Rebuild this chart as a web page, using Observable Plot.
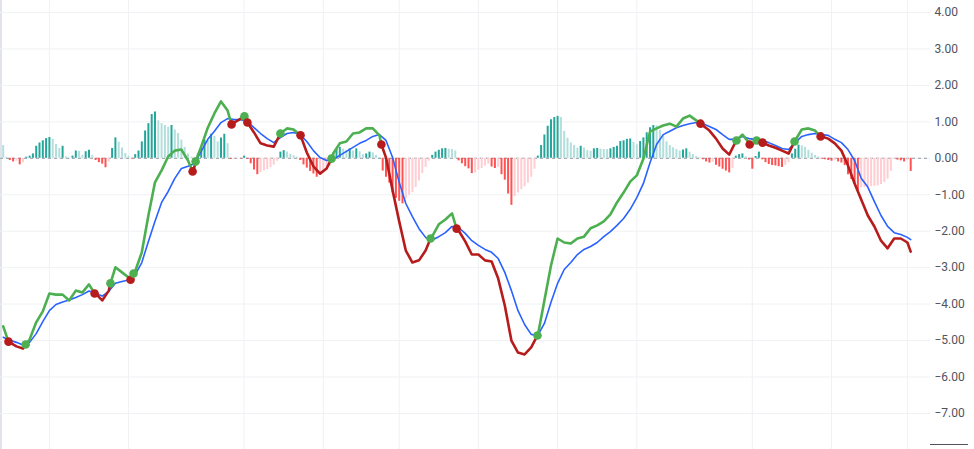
<!DOCTYPE html>
<html><head><meta charset="utf-8">
<script src="https://cdn.jsdelivr.net/npm/d3@7"></script>
<script src="https://cdn.jsdelivr.net/npm/@observablehq/plot@0.6"></script>
<style>
html,body{margin:0;padding:0;background:#fff;}
#wrap{position:relative;width:974px;height:449px;overflow:hidden;}
#wrap .edge{position:absolute;left:0;top:0;width:2px;height:449px;background:#e0e3eb;}
#wrap .corner{position:absolute;left:930px;top:444px;width:38px;height:1px;background:#50535e;}
</style></head>
<body><div id="wrap"><div class="edge"></div><div class="corner"></div></div>
<script>
// Histogram value per bar (276 bars)
const hist = [
0.35,0.03,-0.06,-0.1,-0.08,-0.18,-0.12,0.03,0.06,0.12,
0.33,0.42,0.48,0.54,0.57,0.52,0.38,0.27,0.33,0.04,
0.01,0.06,0.2,0.19,0.08,0.18,0.22,0.08,-0.06,-0.12,
-0.16,-0.26,-0.1,0.27,0.56,0.44,0.28,0.13,0.06,-0.02,
0.1,0.2,0.45,0.75,0.95,1.2,1.27,1.03,0.95,0.9,
0.85,0.9,0.78,0.68,0.5,0.3,0.12,0.03,-0.05,0.12,
0.3,0.5,0.48,0.66,0.6,0.45,0.56,0.66,0.4,-0.03,
-0.02,-0.01,-0.01,0.06,-0.03,-0.15,-0.32,-0.45,-0.39,-0.35,
-0.31,-0.26,-0.19,-0.08,0.17,0.21,0.17,0.11,0.07,0.03,
-0.06,-0.18,-0.27,-0.36,-0.43,-0.52,-0.46,-0.4,-0.33,-0.22,
0.12,0.24,0.3,0.25,0.21,0.26,0.2,0.26,0.18,0.1,
0.12,0.17,0.15,0.08,0.02,-0.35,-0.52,-0.68,-0.95,-1.1,
-1.18,-1.25,-1.12,-1.02,-0.94,-0.8,-0.62,-0.42,-0.25,-0.08,
0.08,0.17,0.22,0.26,0.27,0.25,0.24,0.2,-0.07,-0.15,
-0.23,-0.29,-0.42,-0.4,-0.33,-0.28,-0.21,-0.16,-0.24,-0.28,
-0.25,-0.45,-0.6,-0.98,-1.29,-1.05,-0.95,-0.86,-0.78,-0.68,
-0.52,-0.3,0.06,0.35,0.64,0.88,1.06,1.12,1.15,1.12,
0.74,0.55,0.42,0.35,0.28,0.33,0.28,0.21,0.19,0.26,
0.27,0.25,0.24,0.24,0.26,0.3,0.33,0.46,0.48,0.52,
0.53,0.44,0.37,0.46,0.56,0.7,0.84,0.9,0.89,0.77,
0.62,0.45,0.35,0.29,0.24,0.2,0.23,0.26,0.17,0.1,
0.05,0.02,-0.04,-0.1,-0.13,-0.11,-0.19,-0.24,-0.3,-0.35,
-0.4,-0.28,0.06,0.1,0.12,0.04,-0.05,-0.3,0.05,0.17,
-0.04,-0.12,-0.17,-0.2,-0.21,-0.23,-0.25,-0.19,-0.12,0.12,
0.25,0.36,0.34,0.3,0.22,0.14,0.08,0.04,-0.02,-0.04,
-0.06,-0.08,-0.07,-0.1,-0.13,-0.2,-0.45,-0.58,-0.72,-0.88,
-0.81,-0.8,-0.79,-0.78,-0.77,-0.76,-0.72,-0.66,-0.57,-0.36,
-0.03,-0.05,-0.07,-0.1,-0.06,-0.36
];
// MACD line, read every second bar (0,2,...,274) plus the last bar (275)
const macd = [
-4.61,-5.05,-5.16,-5.22,-4.97,-4.50,-4.20,-3.71,-3.74,-3.74,
-3.90,-3.63,-3.68,-3.46,-3.71,-3.90,-3.63,-2.99,-3.13,-3.27,
-3.10,-2.58,-1.57,-0.66,-0.33,0.05,0.21,0.24,-0.06,-0.22,
0.32,0.84,1.23,1.56,1.31,0.98,1.09,0.98,0.71,0.41,
0.35,0.32,0.68,0.82,0.79,0.63,0.16,-0.22,-0.42,-0.28,
0.13,0.41,0.46,0.68,0.71,0.82,0.82,0.63,0.02,-0.88,
-1.73,-2.53,-2.86,-2.80,-2.53,-2.14,-1.81,-1.68,-1.51,-1.98,
-2.28,-2.64,-2.64,-2.80,-2.83,-3.30,-4.04,-5.00,-5.33,-5.38,
-5.19,-4.86,-3.90,-2.94,-2.20,-2.31,-2.34,-2.20,-2.15,-1.92,
-1.84,-1.73,-1.54,-1.21,-0.94,-0.64,-0.47,-0.01,0.73,0.82,
0.90,0.95,0.87,1.09,1.17,1.04,0.90,0.76,0.54,0.27,
0.10,0.46,0.65,0.43,0.43,0.46,0.35,0.29,0.21,0.13,
0.49,0.79,0.82,0.76,0.60,0.54,0.41,0.21,-0.20,-0.69,
-1.13,-1.57,-1.87,-2.26,-2.47,-2.20,-2.20,-2.31,
-2.56
];
// Signal line, same bars as the MACD line
const signal = [
-4.91,-4.99,-5.05,-5.12,-5.05,-4.81,-4.48,-4.18,-4.01,-3.94,
-3.89,-3.82,-3.74,-3.64,-3.71,-3.78,-3.65,-3.43,-3.38,-3.34,
-3.19,-2.86,-2.28,-1.73,-1.21,-0.91,-0.55,-0.28,-0.22,-0.14,
0.19,0.52,0.74,0.98,1.09,1.06,1.06,1.01,0.84,0.68,
0.54,0.43,0.57,0.68,0.71,0.65,0.46,0.21,0.02,-0.06,
-0.03,0.08,0.19,0.30,0.41,0.49,0.60,0.65,0.49,0.02,
-0.66,-1.24,-1.60,-1.93,-2.17,-2.24,-2.15,-2.04,-1.87,-1.90,
-2.06,-2.26,-2.39,-2.50,-2.58,-2.75,-3.13,-3.63,-4.18,-4.56,
-4.83,-4.86,-4.53,-3.95,-3.43,-3.05,-2.86,-2.64,-2.50,-2.42,
-2.31,-2.15,-2.01,-1.84,-1.65,-1.40,-1.08,-0.69,-0.12,0.38,
0.65,0.74,0.84,0.90,0.95,0.98,0.95,0.87,0.79,0.65,
0.52,0.52,0.60,0.54,0.52,0.49,0.43,0.35,0.27,0.24,
0.43,0.60,0.65,0.68,0.65,0.63,0.52,0.43,0.24,-0.06,
-0.55,-0.79,-1.19,-1.57,-1.87,-2.04,-2.09,-2.17,
-2.23
];
// Crossovers (bar position, value, direction)
const crossBar   = [1.6, 6.8, 27.7, 32.5, 38.6, 39.5, 57.4, 58.3, 69.2, 73.1, 74.0, 84.0, 90.1, 99.5, 114.6, 129.5, 137.4, 161.9, 211.3, 222.2, 226.2, 228.3, 230.1, 239.8, 247.7];
const crossValue = [-5.03,-5.11,-3.71,-3.43,-3.33,-3.16,-0.36,-0.09,0.93,1.15,0.98,0.68,0.63,-0.01,0.38,-2.20,-1.93,-4.86,0.95,0.49,0.38,0.49,0.43,0.46,0.60];
const crossType  = ["down","up","down","up","down","up","down","up","down","up","down","up","down","up","down","up","down","up","down","up","down","up","down","up","down"];
// Axis ticks and time gridlines (bar index)
const yTicks = [-7,-6,-5,-4,-3,-2,-1,0,1,2,3,4];
const gridBars = [14, 38, 73, 97, 120, 144, 168, 192, 227, 251, 274];

const C = {upDark:"#26a69a", upLight:"#b2dfdb", dnDark:"#ff5252", dnLight:"#ffcdd2",
           green:"#4caf50", red:"#b71c1c", blue:"#2962ff", grid:"#f0f1f4"};

const bars = hist.map((v, i) => {
  const p = i ? hist[i-1] : v;
  const c = v >= 0 ? (p < v ? C.upDark : C.upLight) : (p < v ? C.dnLight : C.dnDark);
  return {i, v, c};
});
const lineBars = d3.range(0, 276, 2).concat([275]);
const macdPts = lineBars.map((b, k) => ({x: b, y: macd[k]}));
const signalPts = lineBars.map((b, k) => ({x: b, y: signal[k]}));
const crossPts = crossBar.map((b, k) => ({x: b, y: crossValue[k], type: crossType[k]}));
const merged = macdPts.concat(crossPts).sort((a, b) => (a.x - b.x) || ((a.type ? 1 : 0) - (b.type ? 1 : 0)));
let state = "up", run = 0;
const runs = [];
for (const p of merged) {
  if (p.type) {
    runs.push({x: p.x, y: p.y, run, state});
    state = p.type; run++;
    runs.push({x: p.x, y: p.y, run, state});
  } else runs.push({x: p.x, y: p.y, run, state});
}

const chart = Plot.plot({
  width: 974, height: 449,
  marginLeft: 0, marginRight: 44, marginTop: 0, marginBottom: 0,
  style: {fontFamily: "Roboto, sans-serif", fontSize: "12px", color: "#50535e", background: "transparent"},
  x: {type: "linear", domain: [-2.7/3.3, 927.3/3.3], axis: null},
  y: {domain: [-7.989, 4.329], axis: null},
  marks: [
    Plot.ruleY(yTicks, {stroke: C.grid, strokeWidth: 1}),
    Plot.ruleX(gridBars, {stroke: C.grid, strokeWidth: 1}),
    Plot.ruleY([0], {stroke: "#9598a1", strokeDasharray: "3,3", strokeWidth: 1}),
    Plot.ruleX(bars, {x: "i", y1: 0, y2: "v", stroke: "c", strokeWidth: 2}),
    Plot.line(signalPts, {x: "x", y: "y", stroke: C.blue, strokeWidth: 1.6, curve: "linear"}),
    Plot.line(runs, {x: "x", y: "y", z: "run", stroke: d => d.state === "up" ? C.green : C.red,
                     strokeWidth: 2.6, strokeLinejoin: "round", strokeLinecap: "round"}),
    Plot.dot(crossPts, {x: "x", y: "y", r: 4.3, fill: d => d.type === "up" ? C.green : C.red, stroke: null}),
    Plot.axisY({anchor: "right", ticks: yTicks, tickSize: 0, tickPadding: 4,
                tickFormat: d3.format(".2f"), label: null, fontSize: 12})
  ]
});
document.getElementById("wrap").appendChild(chart);
chart.style.position = "absolute"; chart.style.left = "0"; chart.style.top = "0";
</script>
</body></html>
